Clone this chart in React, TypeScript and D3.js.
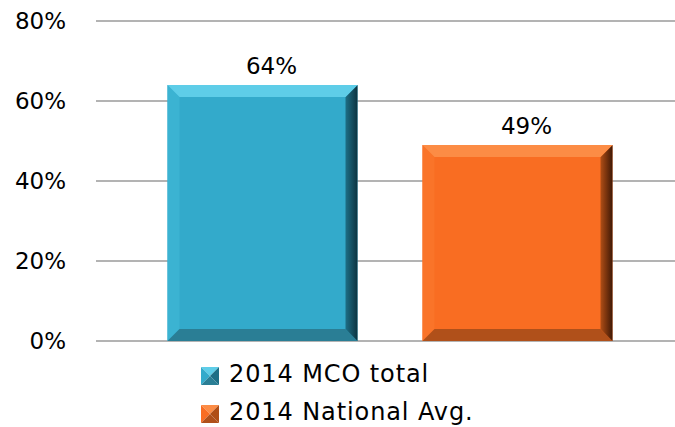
import React from "react";
import * as d3 from "d3";

const categories = ["2014 MCO total", "2014 National Avg."];
const values = [0.64, 0.49];
const valueLabels = ["64%", "49%"];
const yTicks = [0, 0.2, 0.4, 0.6, 0.8];

const palettes = [
  { face: "#33AACB", top: "#5ECDE8", left: "#3BB3D2", right: "#1E6F86", rightEdge: "#0C3340", bottom: "#2A7E95" },
  { face: "#F96D22", top: "#FC8C45", left: "#FA7429", right: "#B04E16", rightEdge: "#3F1805", bottom: "#B0501A" },
];

const W = 675;
const H = 427;

export default function App() {
  const y = d3.scaleLinear().domain([0, 0.8]).range([341, 21]);
  const x = d3
    .scaleBand<string>()
    .domain(categories)
    .range([135, 645])
    .paddingInner(0.255)
    .paddingOuter(0.1275);
  const b = 12;
  const font = "'DejaVu Sans', Verdana, sans-serif";

  return (
    <svg
      width={W}
      height={H}
      style={{ position: "fixed", left: 0, top: 0, background: "#fff" }}
    >
      <defs>
        {palettes.map((p, i) => (
          <linearGradient key={i} id={`rg${i}`} x1="0" x2="1" y1="0" y2="0">
            <stop offset="0" stopColor={p.right} />
            <stop offset="1" stopColor={p.rightEdge} />
          </linearGradient>
        ))}
      </defs>
      {yTicks.map((t) => (
        <g key={t}>
          <line x1={96} x2={675} y1={y(t)} y2={y(t)} stroke="#9a9a9a" strokeWidth={1.5} />
          <text
            x={66}
            y={y(t) + 8}
            textAnchor="end"
            fontFamily={font}
            fontSize={23}
            fill="#000"
          >
            {d3.format(".0%")(t)}
          </text>
        </g>
      ))}
      {categories.map((c, i) => {
        const p = palettes[i];
        const x0 = x(c)!;
        const x1 = x0 + x.bandwidth();
        const y0 = y(values[i]);
        const y1 = y(0);
        const pts = (arr: number[][]) => arr.map((a) => a.join(",")).join(" ");
        return (
          <g key={c}>
            <rect x={x0} y={y0} width={x1 - x0} height={y1 - y0} fill={p.face} />
            <polygon points={pts([[x0, y0], [x0 + b, y0 + b], [x0 + b, y1 - b], [x0, y1]])} fill={p.left} />
            <polygon points={pts([[x0, y1], [x1, y1], [x1 - b, y1 - b], [x0 + b, y1 - b]])} fill={p.bottom} />
            <polygon points={pts([[x1, y0], [x1 - b, y0 + b], [x1 - b, y1 - b], [x1, y1]])} fill={`url(#rg${i})`} />
            <polygon points={pts([[x0, y0], [x1, y0], [x1 - b, y0 + b], [x0 + b, y0 + b]])} fill={p.top} />
            <text
              x={(x0 + x1) / 2}
              dx={9}
              y={y0 - 11}
              textAnchor="middle"
              fontFamily={font}
              fontSize={23}
              fill="#000"
            >
              {valueLabels[i]}
            </text>
          </g>
        );
      })}
      {categories.map((c, i) => {
        const p = palettes[i];
        const sx = 201;
        const sy = 367 + i * 38;
        const s = 18;
        const cx = sx + s / 2;
        const cy = sy + s / 2;
        const pts = (arr: number[][]) => arr.map((a) => a.join(",")).join(" ");
        return (
          <g key={`lg${c}`}>
            <polygon points={pts([[sx, sy], [sx + s, sy], [cx, cy]])} fill={p.top} />
            <polygon points={pts([[sx, sy], [sx, sy + s], [cx, cy]])} fill={p.face} />
            <polygon points={pts([[sx + s, sy], [sx + s, sy + s], [cx, cy]])} fill={p.right} />
            <polygon points={pts([[sx, sy + s], [sx + s, sy + s], [cx, cy]])} fill={p.bottom} />
            <text
              x={229}
              y={sy + 15}
              fontFamily={font}
              fontSize={24}
              letterSpacing={0.9}
              fill="#000"
            >
              {c}
            </text>
          </g>
        );
      })}
    </svg>
  );
}
